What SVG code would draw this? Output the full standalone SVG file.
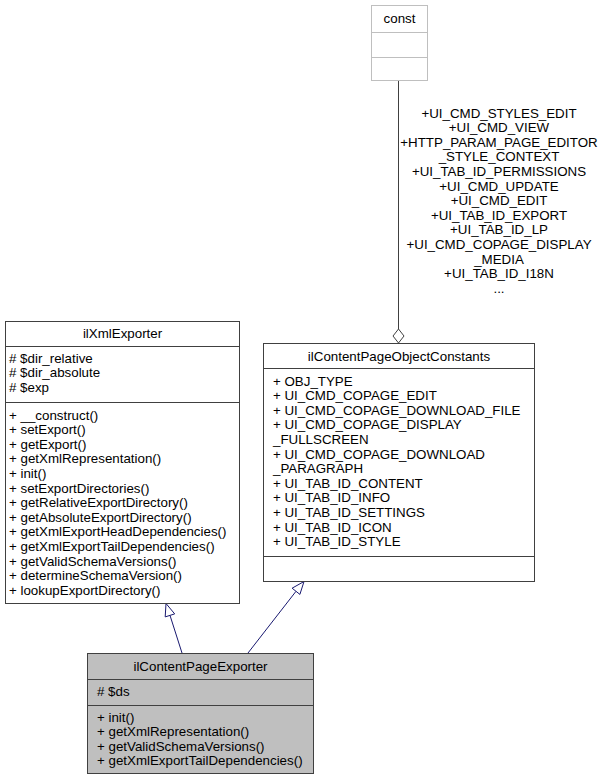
<svg xmlns="http://www.w3.org/2000/svg" width="605" height="780" viewBox="0 0 605 780">
<style>
text{font-family:"Liberation Sans",Arial,sans-serif;font-size:13.33px;fill:#000}
.c{text-anchor:middle}
.box{fill:#fff;stroke:#404040;stroke-width:1}
.cur{fill:#bfbfbf;stroke:#404040;stroke-width:1}
.div{stroke:#404040;stroke-width:1}
.gbox{fill:#fff;stroke:#bfbfbf;stroke-width:1}
.inh{stroke:#191970;stroke-width:1;fill:none}
.tri{fill:#fff;stroke:#191970;stroke-width:1}
.use{stroke:#404040;stroke-width:1;fill:none}
</style>
<g id="connectors">
<path class="use" d="M398.5,81 V329"/>
<polygon class="box" points="398.5,329 404,336 398.5,343 393,336"/>
<g class="c">
<text x="499" y="117.5">+UI_CMD_STYLES_EDIT</text>
<text x="499" y="132.1">+UI_CMD_VIEW</text>
<text x="499" y="146.7">+HTTP_PARAM_PAGE_EDITOR</text>
<text x="499" y="161.3">_STYLE_CONTEXT</text>
<text x="499" y="175.9">+UI_TAB_ID_PERMISSIONS</text>
<text x="499" y="190.5">+UI_CMD_UPDATE</text>
<text x="499" y="205.1">+UI_CMD_EDIT</text>
<text x="499" y="219.7">+UI_TAB_ID_EXPORT</text>
<text x="499" y="234.3">+UI_TAB_ID_LP</text>
<text x="499" y="248.9">+UI_CMD_COPAGE_DISPLAY</text>
<text x="499" y="263.5">_MEDIA</text>
<text x="499" y="278.1">+UI_TAB_ID_I18N</text>
<text x="499" y="292.7">...</text>
</g>
<path class="inh" d="M182,653 L170,615.4"/>
<polygon class="tri" points="166,603.5 174.7,613.9 165.2,616.9"/>
<path class="inh" d="M248,653 L296,591.3"/>
<polygon class="tri" points="304,581.5 299.9,594.4 292.1,588.2"/>
</g>
<g id="const">
<rect class="gbox" x="371.5" y="5.5" width="56" height="75"/>
<path class="gbox" d="M371.5,32.5 H427.5 M371.5,57.5 H427.5"/>
<text class="c" x="399.5" y="23">const</text>
</g>
<g id="ilXmlExporter">
<rect class="box" x="5.5" y="321.5" width="234" height="282"/>
<path class="div" d="M5.5,346.5 H239.5 M5.5,402.5 H239.5"/>
<text class="c" x="122.5" y="338">ilXmlExporter</text>
<text x="9" y="362.5"># $dir_relative</text>
<text x="9" y="377"># $dir_absolute</text>
<text x="9" y="391.5"># $exp</text>
<text x="9" y="419.5">+ __construct()</text>
<text x="9" y="434.1">+ setExport()</text>
<text x="9" y="448.7">+ getExport()</text>
<text x="9" y="463.3">+ getXmlRepresentation()</text>
<text x="9" y="477.9">+ init()</text>
<text x="9" y="492.5">+ setExportDirectories()</text>
<text x="9" y="507.1">+ getRelativeExportDirectory()</text>
<text x="9" y="521.7">+ getAbsoluteExportDirectory()</text>
<text x="9" y="536.3">+ getXmlExportHeadDependencies()</text>
<text x="9" y="550.9">+ getXmlExportTailDependencies()</text>
<text x="9" y="565.5">+ getValidSchemaVersions()</text>
<text x="9" y="580.1">+ determineSchemaVersion()</text>
<text x="9" y="594.7">+ lookupExportDirectory()</text>
</g>
<g id="ilContentPageObjectConstants">
<rect class="box" x="263.5" y="343.5" width="271" height="238"/>
<path class="div" d="M263.5,368.5 H534.5 M263.5,556.5 H534.5"/>
<text class="c" x="399" y="360.5">ilContentPageObjectConstants</text>
<text x="273" y="385.5">+ OBJ_TYPE</text>
<text x="273" y="400.1">+ UI_CMD_COPAGE_EDIT</text>
<text x="273" y="414.7">+ UI_CMD_COPAGE_DOWNLOAD_FILE</text>
<text x="273" y="429.3">+ UI_CMD_COPAGE_DISPLAY</text>
<text x="273" y="443.9">_FULLSCREEN</text>
<text x="273" y="458.5">+ UI_CMD_COPAGE_DOWNLOAD</text>
<text x="273" y="473.1">_PARAGRAPH</text>
<text x="273" y="487.7">+ UI_TAB_ID_CONTENT</text>
<text x="273" y="502.3">+ UI_TAB_ID_INFO</text>
<text x="273" y="516.9">+ UI_TAB_ID_SETTINGS</text>
<text x="273" y="531.5">+ UI_TAB_ID_ICON</text>
<text x="273" y="546.1">+ UI_TAB_ID_STYLE</text>
</g>
<g id="ilContentPageExporter">
<rect class="cur" x="87.5" y="653.5" width="226" height="120"/>
<path class="div" d="M87.5,679.5 H313.5 M87.5,705.5 H313.5"/>
<text class="c" x="200.5" y="670.5">ilContentPageExporter</text>
<text x="97" y="695.5"># $ds</text>
<text x="97" y="721.5">+ init()</text>
<text x="97" y="736.1">+ getXmlRepresentation()</text>
<text x="97" y="750.7">+ getValidSchemaVersions()</text>
<text x="97" y="765.3">+ getXmlExportTailDependencies()</text>
</g>
</svg>
